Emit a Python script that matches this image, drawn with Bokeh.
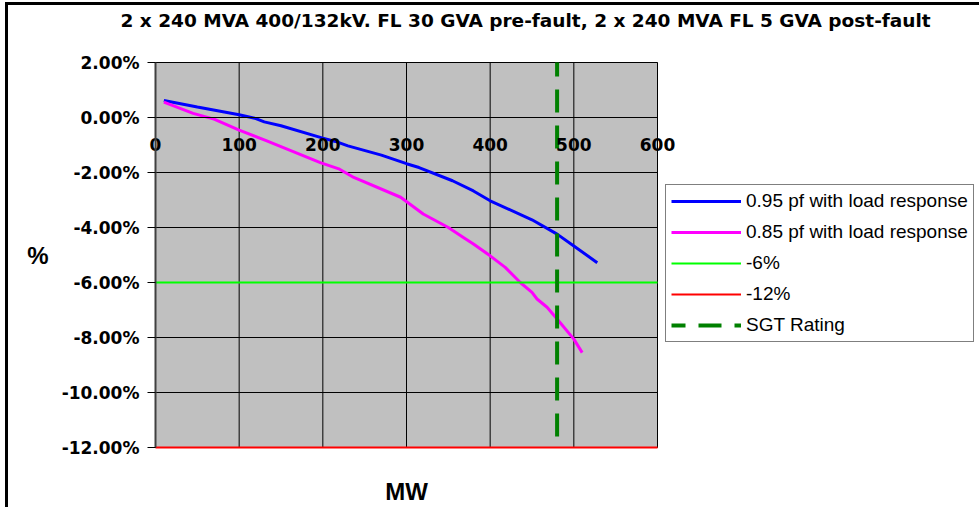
from bokeh.plotting import figure
from bokeh.models import (Legend, LegendItem, FixedTicker, PrintfTickFormatter,
                          Range1d, Label)
from bokeh.embed import file_html
from bokeh.resources import INLINE

# ---------------- data ----------------
title_text = "2 x 240 MVA 400/132kV. FL 30 GVA pre-fault, 2 x 240 MVA FL 5 GVA post-fault"
x_title = "MW"
y_title = "%"

series_names = ["0.95 pf with load response", "0.85 pf with load response",
                "-6%", "-12%", "SGT Rating"]

mw_095 = [10, 50, 100, 120, 130, 150, 200, 215, 230, 270, 300, 315, 355, 380,
          400, 450, 480, 500, 528]
pct_095 = [0.62, 0.38, 0.10, -0.04, -0.16, -0.30, -0.75, -0.87, -1.03, -1.37,
           -1.68, -1.82, -2.30, -2.67, -3.03, -3.72, -4.24, -4.67, -5.28]

mw_085 = [10, 45, 70, 100, 133, 197, 220, 237, 293, 320, 350, 368, 380, 400,
          418, 436, 450, 456, 468, 480, 500, 510]
pct_085 = [0.56, 0.15, -0.06, -0.46, -0.85, -1.64, -1.88, -2.18, -2.90, -3.51,
           -4.00, -4.36, -4.60, -5.03, -5.45, -6.00, -6.36, -6.60, -6.90, -7.33,
           -8.06, -8.55]

limit6_x = [0, 600]
limit6_y = [-6, -6]
limit12_x = [0, 600]
limit12_y = [-12, -12]
sgt_x = [480, 480]
sgt_y = [2, -12]

x_ticks = [0, 100, 200, 300, 400, 500, 600]
y_ticks = [2, 0, -2, -4, -6, -8, -10, -12]

x_lo, x_hi = min(x_ticks), max(x_ticks)
y_lo, y_hi = min(y_ticks), max(y_ticks)

# ---------------- figure ----------------
# The frame spans nearly the whole canvas so that the axes (drawn at the
# data origin), the titles and the legend are not clipped; the grey plot
# area is a quad.
PX_PER_MW = 502 / 600.0
PX_PER_PCT = 385 / 14.0
x_range = Range1d(x_lo - 145 / PX_PER_MW, x_hi + 322 / PX_PER_MW)
y_range = Range1d(y_lo - 60 / PX_PER_PCT, y_hi + 62 / PX_PER_PCT)

p = figure(width=979, height=507, output_backend="svg", toolbar_location=None,
           x_range=x_range, y_range=y_range,
           min_border_left=10, min_border_right=0,
           min_border_top=0, min_border_bottom=0,
           background_fill_color=None, border_fill_color=None)
p.outline_line_color = None
p.styles = {"box-shadow": "inset 5px 2px 0 0 white, inset 8px 5px 0 0 black",
            "background": "white"}

p.xgrid.visible = False
p.ygrid.visible = False

# grey plot area with grid lines
p.quad(left=[x_lo], right=[x_hi], bottom=[y_lo], top=[y_hi],
       fill_color="#C0C0C0", line_color="#808080", line_width=1)
p.segment(x0=x_ticks, x1=x_ticks, y0=[y_lo] * len(x_ticks), y1=[y_hi] * len(x_ticks),
          line_color="black", line_width=1)
p.segment(x0=[x_lo] * len(y_ticks), x1=[x_hi] * len(y_ticks), y0=y_ticks, y1=y_ticks,
          line_color="black", line_width=1)

# x axis crossing at 0 %
xa = p.xaxis[0]
xa.fixed_location = 0
xa.bounds = (x_lo, x_hi)
xa.ticker = FixedTicker(ticks=x_ticks)
xa.major_tick_in = 0
xa.major_tick_out = 0
xa.minor_tick_line_color = None
xa.axis_line_color = "black"
xa.major_label_standoff = 20
xa.major_label_text_font = "DejaVu Sans"
xa.major_label_text_font_size = "17px"
xa.major_label_text_font_style = "bold"
xa.major_label_text_color = "black"

# y axis at 0 MW
ya = p.yaxis[0]
ya.fixed_location = 0
ya.bounds = (y_lo, y_hi)
ya.ticker = FixedTicker(ticks=y_ticks)
ya.formatter = PrintfTickFormatter(format="%.2f%%")
ya.major_tick_out = 8
ya.major_tick_in = 0
ya.minor_tick_line_color = None
ya.axis_line_color = "#404040"
ya.axis_line_width = 2
ya.major_tick_line_color = "black"
ya.major_label_standoff = 8
ya.major_label_text_font = "DejaVu Sans"
ya.major_label_text_font_size = "17px"
ya.major_label_text_font_style = "bold"
ya.major_label_text_color = "black"
ya.axis_label = y_title
ya.axis_label_orientation = "horizontal"
ya.axis_label_standoff = 10
ya.axis_label_text_font = "Liberation Sans"
ya.axis_label_text_font_size = "24px"
ya.axis_label_text_font_style = "bold"
ya.axis_label_text_color = "black"

# ---------------- series ----------------
r95 = p.line(mw_095, pct_095, line_color="#0000FF", line_width=3)
r85 = p.line(mw_085, pct_085, line_color="#FF00FF", line_width=3)
r6 = p.line(limit6_x, limit6_y, line_color="#00FF00", line_width=2)
r12 = p.line(limit12_x, limit12_y, line_color="#FF0000", line_width=2)
rsgt = p.line(sgt_x, sgt_y, line_color="#008000", line_width=4,
              line_dash="23 13", line_dash_offset=9)

# chart title above the plot area
p.add_layout(Label(x=x_lo - 35 / PX_PER_MW, y=y_hi + 42 / PX_PER_PCT, text=title_text,
                   text_align="left", text_baseline="middle",
                   text_font="DejaVu Sans", text_font_size="18.5px",
                   text_font_style="bold", text_color="black"))

# x axis title below the plot area
p.add_layout(Label(x=(x_lo + x_hi) / 2, y=y_lo - 44 / PX_PER_PCT, text=x_title,
                   text_align="center", text_baseline="middle",
                   text_font="Liberation Sans", text_font_size="24px",
                   text_font_style="bold", text_color="black"))

legend = Legend(items=[LegendItem(label=series_names[0], renderers=[r95]),
                       LegendItem(label=series_names[1], renderers=[r85]),
                       LegendItem(label=series_names[2], renderers=[r6]),
                       LegendItem(label=series_names[3], renderers=[r12]),
                       LegendItem(label=series_names[4], renderers=[rsgt])],
                location=(655, 165),
                border_line_color="black", border_line_width=1,
                background_fill_color="white", background_fill_alpha=1,
                glyph_width=70, glyph_height=20, label_height=20,
                label_standoff=5, spacing=9, padding=5, margin=0,
                label_text_font="Liberation Sans", label_text_font_size="19px",
                label_text_color="black")
p.add_layout(legend)

open("out.html", "w").write(file_html(p, INLINE))
